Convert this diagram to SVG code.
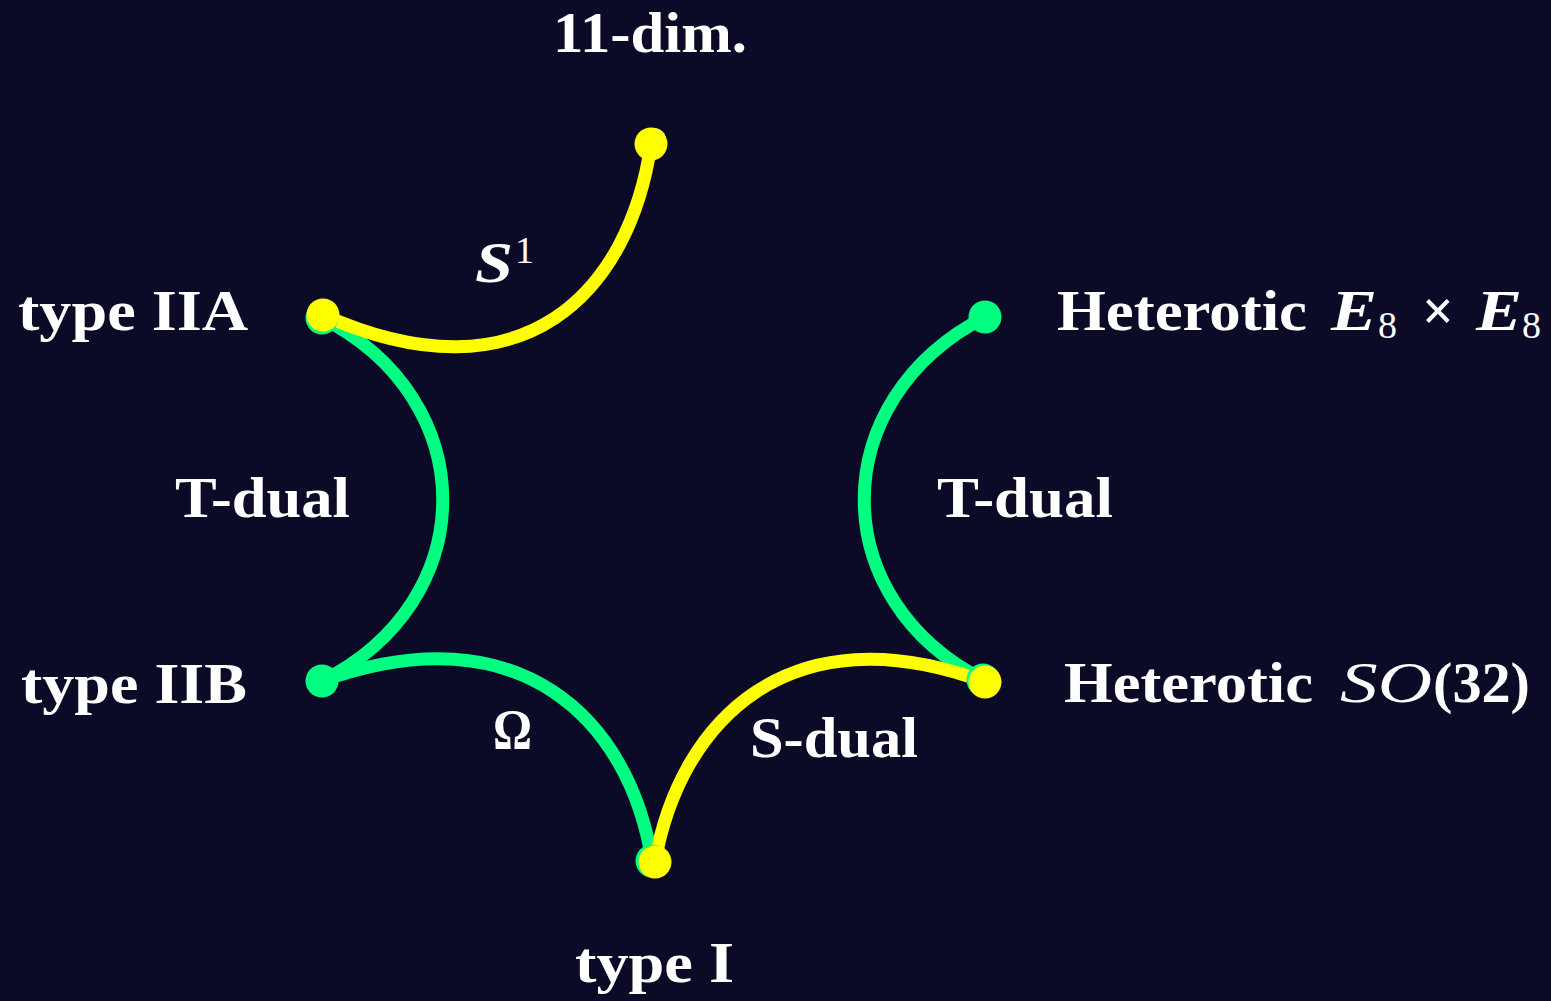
<svg xmlns="http://www.w3.org/2000/svg" width="1551" height="1001" viewBox="0 0 1551 1001">
<style>
.lbl{font-family:"Liberation Serif","DejaVu Serif",serif;font-weight:bold;font-size:56px;fill:#ffffff}
.mi{font-family:"Liberation Serif","DejaVu Serif",serif;font-style:italic;font-weight:bold;font-size:56px;fill:#ffffff}
.mn{font-family:"Liberation Serif","DejaVu Serif",serif;font-style:italic;font-size:56px;fill:#ffffff}
.sub{font-family:"Liberation Serif","DejaVu Serif",serif;font-size:38px;fill:#ffffff}
.g{fill:none;stroke:#00ff80;stroke-width:13;stroke-linecap:round}
.y{fill:none;stroke:#ffff00;stroke-width:13;stroke-linecap:round}
.dg{fill:#00ff80}
.dy{fill:#ffff00}
</style>
<rect width="1551" height="1001" fill="#0b0b28"/>
<g id="connectors">
<path class="g" d="M322,318 C483,400 483,600 322,681"/>
<path class="g" d="M985,317 C824,400 824,600 985,681"/>
<path class="g" d="M322,681 C520,610 630,720 652,861"/>
<path class="y" d="M651,144 C630,290 525,405 323,315"/>
<path class="y" d="M655,862 C680,720 790,610 985,682"/>
</g>
<g id="node-11dim">
<circle cx="654" cy="140" r="12" fill="#ffffff"/>
<circle class="dy" cx="651" cy="144" r="16.5"/>
<text class="lbl" x="553" y="52" textLength="194" lengthAdjust="spacingAndGlyphs">11-dim.</text>
</g>
<g id="node-IIA">
<circle class="dg" cx="322" cy="318" r="16.5"/>
<circle class="dy" cx="323" cy="315" r="16.5"/>
<text class="lbl" x="18" y="330" textLength="230" lengthAdjust="spacingAndGlyphs">type IIA</text>
</g>
<g id="node-IIB">
<circle class="dg" cx="322" cy="681" r="16.5"/>
<text class="lbl" x="21" y="703" textLength="226" lengthAdjust="spacingAndGlyphs">type IIB</text>
</g>
<g id="node-I">
<circle class="dg" cx="652" cy="861" r="16.5"/>
<circle class="dy" cx="655" cy="862" r="16.5"/>
<text class="lbl" x="575" y="982" textLength="159" lengthAdjust="spacingAndGlyphs">type I</text>
</g>
<g id="node-E8E8">
<circle class="dg" cx="985" cy="317" r="16.5"/>
<text class="lbl" x="1057" y="330" textLength="250" lengthAdjust="spacingAndGlyphs">Heterotic</text>
<text class="mi" x="1331" y="330" textLength="46" lengthAdjust="spacingAndGlyphs">E</text>
<text class="sub" x="1378" y="338">8</text>
<text class="lbl" x="1422" y="330" font-weight="normal">×</text>
<text class="mi" x="1476" y="330" textLength="46" lengthAdjust="spacingAndGlyphs">E</text>
<text class="sub" x="1522" y="338">8</text>
</g>
<g id="node-SO32">
<circle class="dg" cx="983" cy="680" r="16.5"/>
<circle class="dy" cx="985" cy="682" r="16.5"/>
<text class="lbl" x="1064" y="702" textLength="249" lengthAdjust="spacingAndGlyphs">Heterotic</text>
<text class="mn" x="1340" y="702" textLength="92" lengthAdjust="spacingAndGlyphs">SO</text>
<text class="lbl" x="1433" y="702" textLength="97" lengthAdjust="spacingAndGlyphs">(32)</text>
</g>
<g id="edge-labels">
<text class="mi" x="475" y="282" textLength="38" lengthAdjust="spacingAndGlyphs">S</text>
<text class="sub" x="515" y="263">1</text>
<text class="lbl" x="175" y="517" textLength="175" lengthAdjust="spacingAndGlyphs">T-dual</text>
<text class="lbl" x="937" y="517" textLength="176" lengthAdjust="spacingAndGlyphs">T-dual</text>
<text class="lbl" x="493" y="749" textLength="39" lengthAdjust="spacingAndGlyphs">Ω</text>
<text class="lbl" x="750" y="757" textLength="168" lengthAdjust="spacingAndGlyphs">S-dual</text>
</g>
</svg>
